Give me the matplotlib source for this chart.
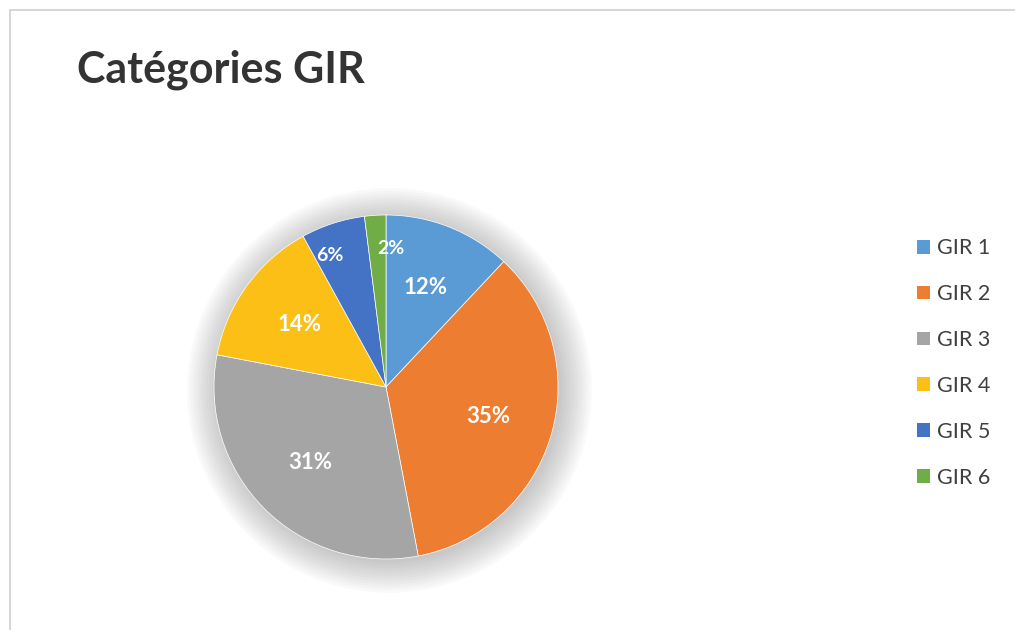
#!/usr/bin/python

import matplotlib
matplotlib.use("Agg")
import matplotlib.pyplot as plt
from matplotlib.patches import Rectangle, Patch, Circle

categories = ["GIR 1", "GIR 2", "GIR 3", "GIR 4", "GIR 5", "GIR 6"]
shares = [12, 35, 31, 14, 6, 2]
colors = ["#5B9BD5", "#ED7D31", "#A5A5A5", "#FBBF16", "#4472C4", "#70AD47"]
title = "Catégories GIR"

plt.rcParams['font.family'] = ['Lato', 'DejaVu Sans']

fig = plt.figure(figsize=(10.15, 6.3), dpi=100)

# light frame round the chart area
fig.patches.append(Rectangle((10 / 1015, -0.1), 1.2, (620 / 630) + 0.1,
                             transform=fig.transFigure, fill=False,
                             edgecolor="#d0d0d0", linewidth=1.2))

cx, cy, r = 386, 387, 172
ax = fig.add_axes([(cx - r) / 1015, (630 - cy - r) / 630, 2 * r / 1015, 2 * r / 630])

# soft grey halo behind the pie
for k in range(12):
    ax.add_patch(Circle((0.02, -0.02), 1.0 + 0.016 * k, facecolor="#707070",
                        edgecolor="none", alpha=0.035, clip_on=False, zorder=0))

wedges, texts, autotexts = ax.pie(
    shares, colors=colors, startangle=90, counterclock=False,
    autopct="%1.0f%%", pctdistance=0.62,
    wedgeprops={'linewidth': 0.5, 'edgecolor': 'white', 'zorder': 2})
for t in autotexts:
    t.set_color("white")
    t.set_fontweight("bold")
    t.set_fontsize(16)
    t.set_zorder(3)

# the two thin slices: push their labels outward and apart
for t, ha in zip(autotexts[4:], ["right", "left"]):
    x, y = t.get_position()
    t.set_position((x * 1.3, y * 1.3))
    t.set_ha(ha)
    t.set_fontsize(14)

ax.set_xlim(-1, 1)
ax.set_ylim(-1, 1)

fig.text(77 / 1015, 1 - 70 / 630, title, fontsize=31, fontweight="bold",
         color="#333333", va="center", ha="left")

handles = [Patch(facecolor=c, edgecolor="none") for c in colors]
fig.legend(handles, categories, loc="center left",
           bbox_to_anchor=(917 / 1015, 1 - 363 / 630), frameon=False,
           fontsize=15.5, labelcolor="#404040", handlelength=0.6,
           handleheight=0.6, handletextpad=0.35, labelspacing=1.2,
           borderpad=0, borderaxespad=0)

fig.savefig("out.png", dpi=100)
